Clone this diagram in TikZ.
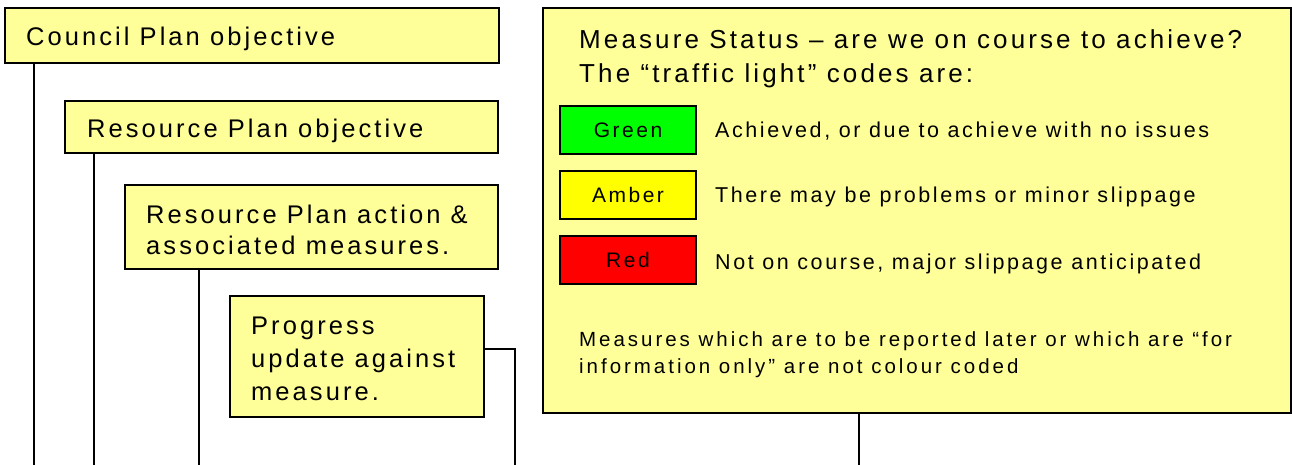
\documentclass[tikz,border=0pt]{standalone}
\usepackage{fontspec}
\setmainfont{Liberation Sans}
\newfontfamily\lsfont{Liberation Sans}[LetterSpace=12]
\newfontfamily\lsfontwide{Liberation Sans}[LetterSpace=14.5]
\definecolor{boxyellow}{HTML}{FFFF99}
\definecolor{sgreen}{HTML}{00FF00}
\definecolor{samber}{HTML}{FFFF00}
\definecolor{sred}{HTML}{FF0000}
\tikzset{
  box/.style={draw=black, line width=2pt, fill=boxyellow, anchor=north west, inner sep=0pt, outer sep=0pt},
  swatch/.style={draw=black, line width=2pt, anchor=north west, inner sep=0pt, outer sep=0pt, minimum width=136pt, minimum height=48pt, font=\lsfont\fontsize{21}{24}\selectfont},
  conn/.style={line width=2pt, black},
  big/.style={anchor=base west, inner sep=0pt, font=\lsfont\fontsize{25.5}{30}\selectfont},
  head/.style={anchor=base west, inner sep=0pt, font=\lsfont\fontsize{26}{30}\selectfont},
  mid/.style={anchor=base west, inner sep=0pt, font=\lsfont\fontsize{21.5}{24}\selectfont},
  small/.style={anchor=base west, inner sep=0pt, font=\lsfontwide\fontsize{20.5}{24}\selectfont},
}
\begin{document}
\begin{tikzpicture}[x=1pt,y=-1pt]
\useasboundingbox[fill=white] (0,0) rectangle (1292,465);
% left hierarchy boxes
\node[box, minimum width=494pt, minimum height=55pt] (cp) at (5,8) {};
\node[box, minimum width=433pt, minimum height=52pt] (rpo) at (65,101) {};
\node[box, minimum width=373pt, minimum height=84pt] (rpa) at (125,185) {};
\node[box, minimum width=254pt, minimum height=121pt] (pu) at (230,296) {};
% legend box
\node[box, minimum width=748pt, minimum height=405pt] (ms) at (543,8) {};
% texts
\node[big] (t1) at (26,46) {Council Plan objective};
\node[big] (t2) at (87,138) {Resource Plan objective};
\node[big] (t3a) at (146,223) {Resource Plan action \&};
\node[big] (t3b) at (146,254) {associated measures.};
\node[big] (t4a) at (251,334) {Progress};
\node[big] (t4b) at (251,367) {update against};
\node[big] (t4c) at (251,400) {measure.};
\node[head] (h1) at (579,49) {Measure Status – are we on course to achieve?};
\node[head] (h2) at (579,83) {The “traffic light” codes are:};
% swatches
\node[swatch, fill=sgreen] (g) at (560,106) {Green};
\node[swatch, fill=samber] (a) at (560,171) {Amber};
\node[swatch, fill=sred] (r) at (560,236) {Red};
\node[mid] (dg) at (715,138) {Achieved, or due to achieve with no issues};
\node[mid] (da) at (715,202) {There may be problems or minor slippage};
\node[mid] (dr) at (715,269) {Not on course, major slippage anticipated};
\node[small] (n1) at (579,346) {Measures which are to be reported later or which are “for};
\node[small] (n2) at (579,373) {information only” are not colour coded};
% connector end points
\coordinate (e1) at (34,465);
\coordinate (e2) at (94,465);
\coordinate (e3) at (199,465);
\coordinate (e4) at (515,465);
\coordinate (e5) at (859,465);
\draw[conn] (e1 |- cp.south) -- (e1);
\draw[conn] (e2 |- rpo.south) -- (e2);
\draw[conn] (e3 |- rpa.south) -- (e3);
\draw[conn] (pu.east |- 0,349) -| (e4);
\draw[conn] (e5 |- ms.south) -- (e5);
\end{tikzpicture}
\end{document}
